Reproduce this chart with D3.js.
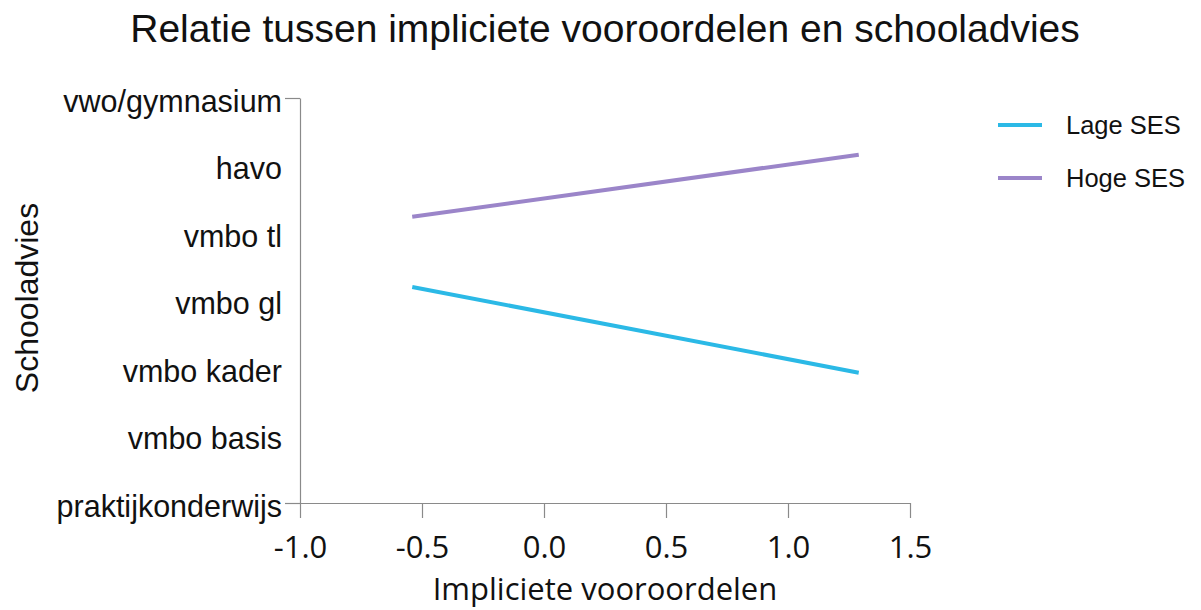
<!DOCTYPE html>
<html>
<head>
<meta charset="utf-8">
<script src="https://cdn.jsdelivr.net/npm/d3@7"></script>
<style>
  html, body { margin: 0; padding: 0; background: #fff; }
  svg { display: block; }
  text { font-family: "Liberation Sans", Arial, sans-serif; fill: #111; }
</style>
</head>
<body>
<svg id="chart" width="1201" height="610"></svg>
<script>
// ---- data ----
const categories = ["praktijkonderwijs", "vmbo basis", "vmbo kader", "vmbo gl", "vmbo tl", "havo", "vwo/gymnasium"];
const xTicks = [-1.0, -0.5, 0.0, 0.5, 1.0, 1.5];
const seriesNames = ["Lage SES", "Hoge SES"];
const seriesColors = ["#2bb9e6", "#9b85c9"];
const xValues = [-0.54, 1.29];
const lageSES = [3.2, 1.93];
const hogeSES = [4.24, 5.16];

const svg = d3.select("#chart");
const x = d3.scaleLinear().domain([-1, 1.5]).range([300, 910]);
const y = d3.scaleLinear().domain([0, categories.length - 1]).range([503, 98]);

// title
svg.append("text")
  .attr("x", 605).attr("y", 42)
  .attr("text-anchor", "middle")
  .style("font-size", "39px")
  .text("Relatie tussen impliciete vooroordelen en schooladvies");

// x axis
const xAxis = d3.axisBottom(x).tickValues(xTicks).tickFormat(d => d.toFixed(1))
  .tickSizeInner(15).tickSizeOuter(0).tickPadding(18);
const gx = svg.append("g").attr("transform", `translate(0,${y(0)})`).call(xAxis);
gx.selectAll("path, line").attr("stroke", "#8a8a8a").attr("stroke-width", 1.2);
gx.selectAll("text").style("font-size", "31px").style("font-family", "'Open Sans', sans-serif").attr("fill", "#111");

// y axis
const yAxis = d3.axisLeft(y).tickValues(d3.range(categories.length))
  .tickFormat(i => categories[i]).tickSizeInner(15).tickSizeOuter(0).tickPadding(3);
const gy = svg.append("g").attr("transform", `translate(${x(-1)},0)`).call(yAxis);
gy.selectAll("path, line").attr("stroke", "#8a8a8a").attr("stroke-width", 1.2);
gy.selectAll(".tick line").attr("display", (d, i) => (i === 0 || i === categories.length - 1) ? null : "none");
gy.selectAll("text").style("font-size", "30.5px").attr("dy", "0.43em").attr("fill", "#111");

// axis titles
svg.append("text")
  .attr("transform", "translate(38,298) rotate(-90)")
  .attr("text-anchor", "middle")
  .style("font-size", "32px")
  .text("Schooladvies");
svg.append("text")
  .attr("x", 605).attr("y", 600)
  .attr("text-anchor", "middle")
  .style("font-size", "31px")
  .style("font-family", "'Open Sans', sans-serif")
  .text("Impliciete vooroordelen");

// lines
const line = d3.line().x((d, i) => x(xValues[i])).y(d => y(d));
[lageSES, hogeSES].forEach((s, k) => {
  svg.append("path").datum(s)
    .attr("d", line)
    .attr("fill", "none")
    .attr("stroke", seriesColors[k])
    .attr("stroke-width", 4);
});

// legend
const lg = svg.append("g");
seriesNames.forEach((n, k) => {
  const yy = 125 + k * 53;
  lg.append("line").attr("x1", 998).attr("x2", 1042).attr("y1", yy).attr("y2", yy)
    .attr("stroke", seriesColors[k]).attr("stroke-width", 4);
  lg.append("text").attr("x", 1066).attr("y", yy).attr("dy", "0.35em")
    .style("font-size", "25.5px").text(n);
});
</script>
</body>
</html>
